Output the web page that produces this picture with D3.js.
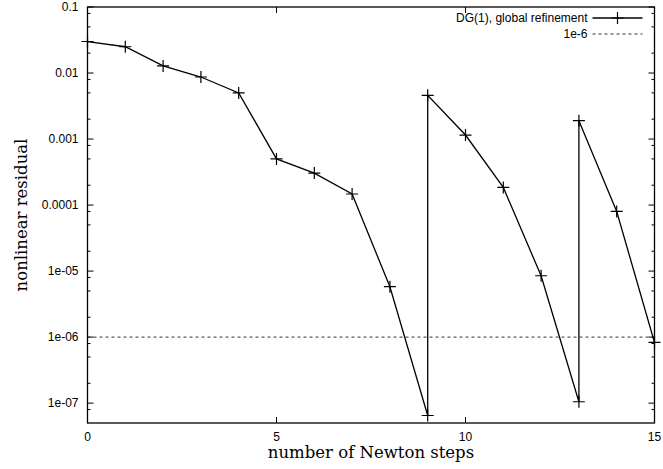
<!DOCTYPE html>
<html>
<head>
<meta charset="utf-8">
<script src="https://cdn.jsdelivr.net/npm/d3@7"></script>
<style>
  body { margin: 0; background: #fff; }
  svg { display: block; }
</style>
</head>
<body>
<svg width="663" height="469"></svg>
<script>
// data
const steps = [0, 1, 2, 3, 4, 5, 6, 7, 8, 9, 9, 10, 11, 12, 13, 13, 14, 15];
const residuals = [0.030, 0.025, 0.0128, 0.0087, 0.0050, 0.00050, 0.000305, 0.000147,
  5.8e-6, 6.5e-8, 0.0046, 0.00115, 0.000185, 8.5e-6, 1.05e-7, 0.0019, 8.0e-5, 8.3e-7];
const threshold = 1e-6;
const xTicks = [0, 5, 10, 15];
const yTicks = [0.1, 0.01, 0.001, 0.0001, 1e-5, 1e-6, 1e-7];
const yTickLabels = ["0.1", "0.01", "0.001", "0.0001", "1e-05", "1e-06", "1e-07"];
const seriesName = "DG(1), global refinement";
const thresholdName = "1e-6";

const sansFont = "'Liberation Sans', Arial, sans-serif";
const serifFont = "'DejaVu Serif', serif";

const margin = {top: 7, right: 8.5, bottom: 46, left: 87.5};
const width = 663 - margin.left - margin.right,
      height = 469 - margin.top - margin.bottom;

const svg = d3.select("svg");
const g = svg.append("g")
    .attr("transform", `translate(${margin.left}, ${margin.top})`);

const x = d3.scaleLinear().domain([0, 15]).range([0, width]);
const y = d3.scaleLog().domain([5e-8, 0.1]).range([height, 0]);

// minor ticks at 2,5,8 of each decade
const minorTicks = [];
for (let e = -8; e <= -2; e++) {
  [2, 5, 8].forEach(m => {
    const v = m * Math.pow(10, e);
    if (v > 5e-8 && v < 0.1) minorTicks.push(v);
  });
}

// ticks left & right
g.selectAll(".ymaj").data(yTicks).enter().append("path")
    .attr("d", d => `M0,${y(d)}h6M${width},${y(d)}h-6`)
    .attr("stroke", "#000").attr("stroke-width", 1);
g.selectAll(".ymin").data(minorTicks).enter().append("path")
    .attr("d", d => `M0,${y(d)}h3M${width},${y(d)}h-3`)
    .attr("stroke", "#000").attr("stroke-width", 1);
g.selectAll(".xmaj").data(xTicks).enter().append("path")
    .attr("d", d => `M${x(d)},${height}v-6M${x(d)},0v6`)
    .attr("stroke", "#000").attr("stroke-width", 1);

// tick labels
g.selectAll(".ylab").data(yTicks).enter().append("text")
    .attr("x", -9)
    .attr("y", d => y(d))
    .attr("dy", "0.35em")
    .attr("text-anchor", "end")
    .style("font-family", sansFont).style("font-size", "12px")
    .text((d, i) => yTickLabels[i]);
g.selectAll(".xlab").data(xTicks).enter().append("text")
    .attr("x", d => x(d))
    .attr("y", height + 18)
    .attr("text-anchor", "middle")
    .style("font-family", sansFont).style("font-size", "12px")
    .text(d => d);

// axis titles
g.append("text")
    .attr("x", width / 2)
    .attr("y", height + 35)
    .attr("text-anchor", "middle")
    .style("font-family", serifFont).style("font-size", "16.5px")
    .text("number of Newton steps");
g.append("text")
    .attr("transform", `translate(${-61}, ${height / 2}) rotate(-90)`)
    .attr("text-anchor", "middle")
    .style("font-family", serifFont).style("font-size", "16.5px")
    .text("nonlinear residual");

// threshold line
g.append("line")
    .attr("x1", 0).attr("x2", width)
    .attr("y1", y(threshold)).attr("y2", y(threshold))
    .attr("stroke", "#333").attr("stroke-width", 1)
    .attr("stroke-dasharray", "3,3");

// series line
const pts = steps.map((s, i) => [s, residuals[i]]);
const line = d3.line().x(d => x(d[0])).y(d => y(d[1]));
g.append("path")
    .datum(pts)
    .attr("d", line)
    .attr("fill", "none")
    .attr("stroke", "#000")
    .attr("stroke-width", 1.3);

const plus = (cx, cy) => `M${cx - 6},${cy}h12M${cx},${cy - 6}v12`;
g.selectAll(".pt").data(pts).enter().append("path")
    .attr("d", d => plus(x(d[0]), y(d[1])))
    .attr("stroke", "#000").attr("stroke-width", 1.2);

// frame
g.append("rect")
    .attr("width", width).attr("height", height)
    .attr("fill", "none").attr("stroke", "#000").attr("stroke-width", 1.3);

// legend
const lx = width - 62, ly = 11;
g.append("text")
    .attr("x", lx - 5).attr("y", ly).attr("dy", "0.35em")
    .attr("text-anchor", "end")
    .style("font-family", sansFont).style("font-size", "12px")
    .text(seriesName);
g.append("line").attr("x1", lx).attr("x2", lx + 50)
    .attr("y1", ly).attr("y2", ly)
    .attr("stroke", "#000").attr("stroke-width", 1.3);
g.append("path").attr("d", plus(lx + 25, ly))
    .attr("stroke", "#000").attr("stroke-width", 1.2);
g.append("text")
    .attr("x", lx - 5).attr("y", ly + 16).attr("dy", "0.35em")
    .attr("text-anchor", "end")
    .style("font-family", sansFont).style("font-size", "12px")
    .text(thresholdName);
g.append("line").attr("x1", lx).attr("x2", lx + 50)
    .attr("y1", ly + 16).attr("y2", ly + 16)
    .attr("stroke", "#333").attr("stroke-width", 1)
    .attr("stroke-dasharray", "3,3");
</script>
</body>
</html>
